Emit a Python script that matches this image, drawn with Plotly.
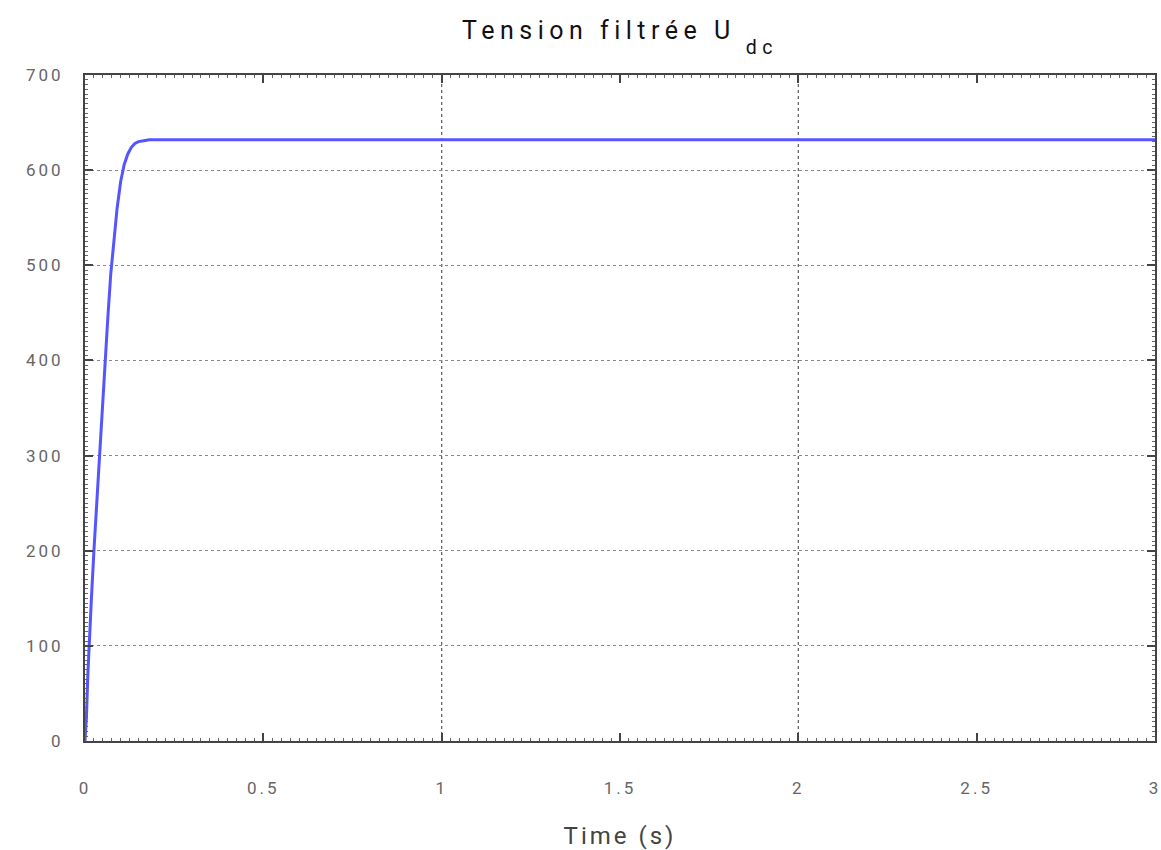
import plotly.graph_objects as go

# Filtered DC-bus voltage during start-up (seconds, volts)
time_s = [0.0, 0.004, 0.008, 0.012, 0.018, 0.025, 0.032, 0.04, 0.048, 0.056, 0.064,
          0.072, 0.08, 0.09, 0.1, 0.11, 0.12, 0.13, 0.14, 0.15, 0.165, 0.18, 0.2, 3.0]
u_dc = [0, 25, 70, 110, 150, 200, 245, 300, 350, 400, 445,
        490, 525, 560, 588, 606, 617, 624, 628, 630, 631, 632, 632, 632]

x_ticks = [0, 0.5, 1, 1.5, 2, 2.5, 3]
x_tick_text = ["0", "0.5", "1", "1.5", "2", "2.5", "3"]
y_ticks = [0, 100, 200, 300, 400, 500, 600, 700]
x_grid = [1, 2]

axis_color = "#444444"
font_family = "Roboto, Liberation Sans, sans-serif"
tick_font = dict(family=font_family, size=17, color="#666666")

fig = go.Figure()
fig.add_trace(go.Scatter(
    x=time_s, y=u_dc, mode="lines",
    line=dict(color="rgb(85,85,255)", width=3),
    showlegend=False,
))

for xv in x_grid:
    fig.add_shape(type="line", xref="x", yref="paper", x0=xv, x1=xv, y0=0, y1=1,
                  line=dict(color="#666666", width=1.3, dash="dot"), layer="below")

fig.update_layout(
    width=1161, height=850,
    margin=dict(l=85, r=6, t=75, b=109),
    paper_bgcolor="white", plot_bgcolor="white",
    title=dict(text="Tension filtrée U<sub>dc</sub>", x=0.534, xanchor="center",
               y=0.965, yanchor="middle",
               font=dict(family=font_family, size=25, color="#111111")),
)

fig.update_xaxes(
    range=[0, 3], tickvals=x_ticks, ticktext=x_tick_text, automargin=False,
    showgrid=False, zeroline=False,
    showline=True, linecolor=axis_color, linewidth=2, mirror="ticks",
    ticks="inside", ticklen=8, tickwidth=2, tickcolor=axis_color,
    minor=dict(ticks="inside", ticklen=3, dtick=0.025, tickcolor="#666666", tickwidth=1),
    tickfont=tick_font, ticklabelstandoff=31,
    title=dict(text="Time (s)", standoff=30,
               font=dict(family=font_family, size=24, color="#444444")),
)
fig.update_yaxes(
    range=[0, 700], tickvals=y_ticks, automargin=False,
    showgrid=True, gridcolor="#888888", griddash="dot", gridwidth=1.3,
    zeroline=False,
    showline=True, linecolor=axis_color, linewidth=2, mirror="ticks",
    ticks="inside", ticklen=8, tickwidth=2, tickcolor=axis_color,
    minor=dict(ticks="inside", ticklen=3, dtick=5, tickcolor="#666666", tickwidth=1),
    tickfont=tick_font, ticklabelstandoff=16,
)

# Wider letter spacing and a deeper, detached subscript in the title
post_js = """
document.querySelectorAll('.xtick text, .ytick text, .g-xtitle text').forEach(function(t){
    t.style.letterSpacing = '3px';
});
document.querySelectorAll('.gtitle').forEach(function(t){
    t.style.letterSpacing = '5.5px';
});
document.querySelectorAll('.gtitle tspan').forEach(function(s){
    var dy = s.getAttribute('dy');
    if (dy === '0.3em') {
        s.setAttribute('dy', '0.8em'); s.setAttribute('dx', '10');
        s.style.fontSize = '78%';
    }
    else if (dy === '-0.21em') { s.setAttribute('dy', '-0.6em'); }
});
"""

fig.write_html("out.html", post_script=post_js)
